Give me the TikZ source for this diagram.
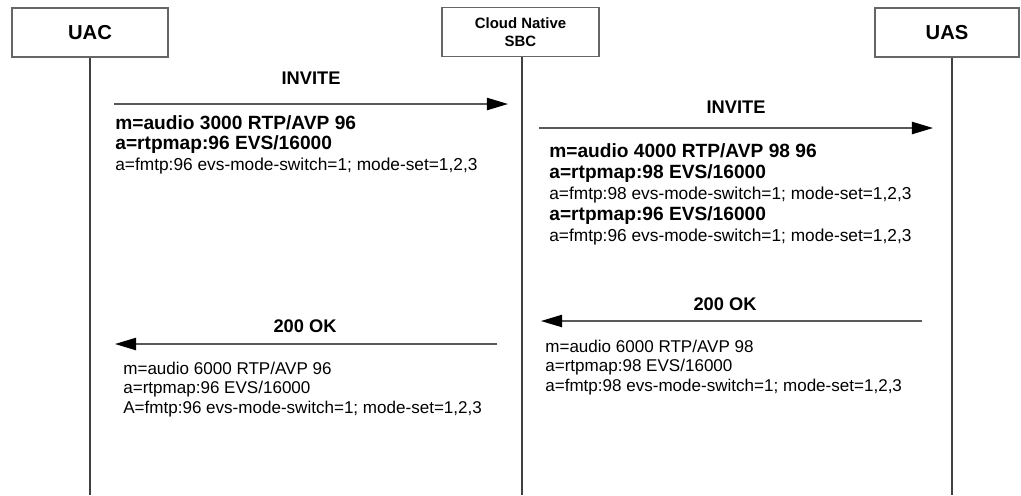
\documentclass[tikz,border=0pt]{standalone}
\usepackage{fontspec}
\setmainfont{Liberation Sans}
\usetikzlibrary{arrows.meta}

\newcommand{\sdpbold}[1]{{\fontsize{10.9}{12}\selectfont\bfseries #1}}

\begin{document}
\begin{tikzpicture}[x=0.02cm, y=-0.02cm,
	every node/.style={inner sep=0pt},
	entity/.style={draw=black!60, line width=0.7pt, fill=white, minimum height=0.98cm, font=\bfseries\fontsize{11.5}{13}\selectfont},
	lifeline/.style={black!75, line width=0.6pt},
	msg/.style={black!65, line width=0.8pt, -{Triangle[length=12pt,width=7pt,color=black]}},
	msglabel/.style={anchor=base, font=\bfseries\fontsize{10.4}{12}\selectfont},
	sdp/.style={anchor=base west, align=left}]
	\useasboundingbox (0,0) rectangle (1021,495);
	\coordinate (bottom) at (0,495);
	% entities and lifelines
	\node[entity, minimum width=3.12cm] (uac) at (90,32.5) {UAC};
	\node[entity, minimum width=3.14cm, align=center, font=\bfseries\fontsize{8.5}{10.2}\selectfont] (sbc) at (520.5,32) {Cloud Native\\SBC};
	\node[entity, minimum width=2.88cm] (uas) at (947,32.5) {UAS};
	\foreach \n/\dx in {uac/0, sbc/1.5, uas/5} {\draw[lifeline] ([xshift=\dx*0.02cm]\n.south) -- ([xshift=\dx*0.02cm]\n.south |- bottom);}
	% INVITE UAC -> SBC
	\coordinate (inv1a) at (114,104); \coordinate (inv1b) at (508,104);
	\draw[msg] (inv1a) -- (inv1b);
	\node[msglabel] (inv1lbl) at (311,84) {INVITE};
	\node[sdp, font=\fontsize{9.85}{11.6}\selectfont] (sdp1) at (115,170) {\sdpbold{m=audio 3000 RTP/AVP 96}\\ \sdpbold{a=rtpmap:96 EVS/16000}\\ a=fmtp:96 evs-mode-switch=1; mode-set=1,2,3};
	% INVITE SBC -> UAS
	\coordinate (inv2a) at (539,128); \coordinate (inv2b) at (933,128);
	\draw[msg] (inv2a) -- (inv2b);
	\node[msglabel] (inv2lbl) at (736,113) {INVITE};
	\node[sdp, font=\fontsize{9.85}{11.9}\selectfont] (sdp2) at (549,241) {\sdpbold{m=audio 4000 RTP/AVP 98 96}\\ \sdpbold{a=rtpmap:98 EVS/16000}\\ a=fmtp:98 evs-mode-switch=1; mode-set=1,2,3\\ \sdpbold{a=rtpmap:96 EVS/16000}\\ a=fmtp:96 evs-mode-switch=1; mode-set=1,2,3};
	% 200 OK UAS -> SBC
	\coordinate (ok1a) at (922,321); \coordinate (ok1b) at (541,321);
	\draw[msg] (ok1a) -- (ok1b);
	\node[msglabel] (ok1lbl) at (725,310) {200 OK};
	\node[sdp, font=\fontsize{9.7}{11.05}\selectfont] (sdp3) at (545,391) {m=audio 6000 RTP/AVP 98\\ a=rtpmap:98 EVS/16000\\ a=fmtp:98 evs-mode-switch=1; mode-set=1,2,3};
	% 200 OK SBC -> UAC
	\coordinate (ok2a) at (497,344); \coordinate (ok2b) at (115,344);
	\draw[msg] (ok2a) -- (ok2b);
	\node[msglabel] (ok2lbl) at (305,332) {200 OK};
	\node[sdp, font=\fontsize{9.7}{11.05}\selectfont] (sdp4) at (123,413) {m=audio 6000 RTP/AVP 96\\ a=rtpmap:96 EVS/16000\\ A=fmtp:96 evs-mode-switch=1; mode-set=1,2,3};
\end{tikzpicture}
\end{document}
